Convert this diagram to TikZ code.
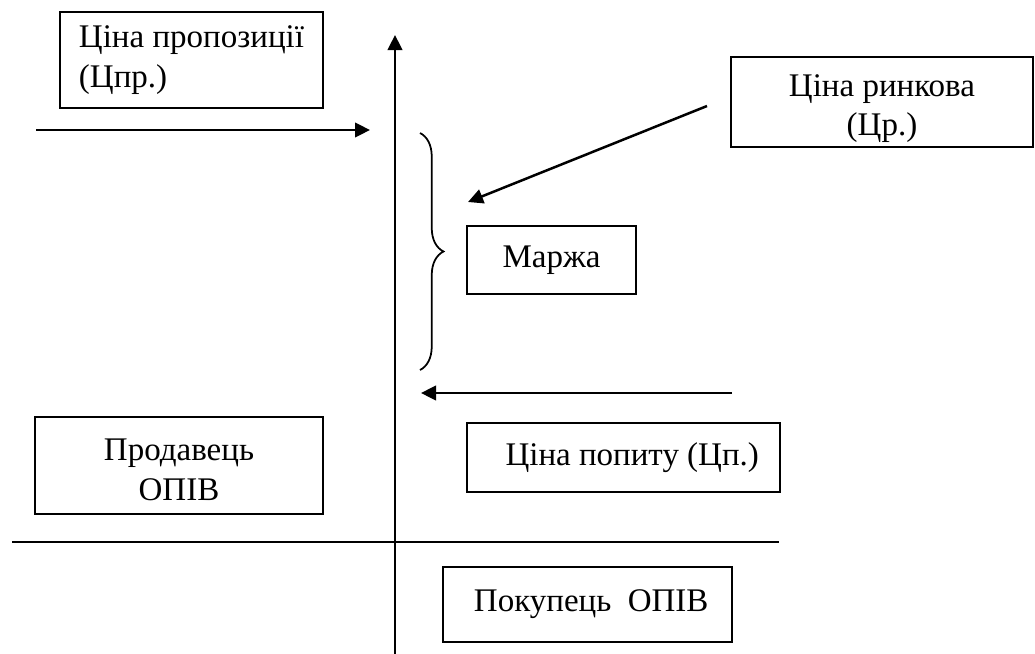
\documentclass[tikz,border=0pt]{standalone}
\usepackage{fontspec}
\setmainfont{Liberation Serif}
\usepackage{xcolor}
\definecolor{ink}{HTML}{000000}
\usetikzlibrary{arrows.meta,positioning,decorations.pathreplacing}

\begin{document}
\begin{tikzpicture}[x=0.4pt, y=-0.4pt,
    box/.style={draw=ink, line width=0.8pt, inner sep=0pt, align=center, text=ink,
      font=\fontsize{13.2}{15.8}\selectfont},
    arr/.style={-{Triangle[length=6pt, width=5.8pt]}, ink, line width=1pt},
    axisline/.style={ink, line width=1pt}]
        \useasboundingbox (0,0) rectangle (1035,654);
        \node[box, align=left, minimum width=105.2pt, minimum height=38.4pt] (prop) at (191.5,60) {Ціна пропозиції\\(Цпр.)};
        \node[box, minimum width=120.8pt, minimum height=36pt] (rynk) at (882,102) {\rule{0pt}{14pt}Ціна ринкова\\(Цр.)};
        \node[box, minimum width=67.6pt, minimum height=27.2pt] (marzha) at (551.5,260) {Маржа};
        \node[box, minimum width=115.2pt, minimum height=38.8pt] (prod) at (179,465.5) {\rule{0pt}{12pt}Продавець\\ОПІВ};
        \node[box, minimum width=125.2pt, minimum height=27.6pt] (popyt) at (623.5,457.5) {\hspace{7pt}Ціна попиту (Цп.)};
        \node[box, minimum width=115.6pt, minimum height=30pt] (pokup) at (587.5,604.5) {\hspace{3pt}Покупець\ \ ОПІВ};
        \coordinate (axisB) at (395,654);
        \coordinate (axisT) at (395,35);
        \coordinate (propA) at (36,130);
        \coordinate (propB) at (370,130);
        \coordinate (rynkA) at (707,106);
        \coordinate (rynkB) at (468,202);
        \coordinate (popA) at (732,393);
        \coordinate (popB) at (421,393);
        \coordinate (lineL) at (12,542);
        \coordinate (lineR) at (779,542);
        \coordinate (brT) at (420,133);
        \coordinate (brB) at (420,370);
        \draw[arr] (axisB) -- (axisT);
        \draw[axisline] (lineL) -- (lineR);
        \draw[arr] (propA) -- (propB);
        \draw[arr] (rynkA) -- (rynkB);
        \draw[arr] (popA) -- (popB);
        \draw[ink, line width=0.7pt, decorate, decoration={brace, amplitude=9.4pt}] (brT) -- (brB);
      \end{tikzpicture}
\end{document}
